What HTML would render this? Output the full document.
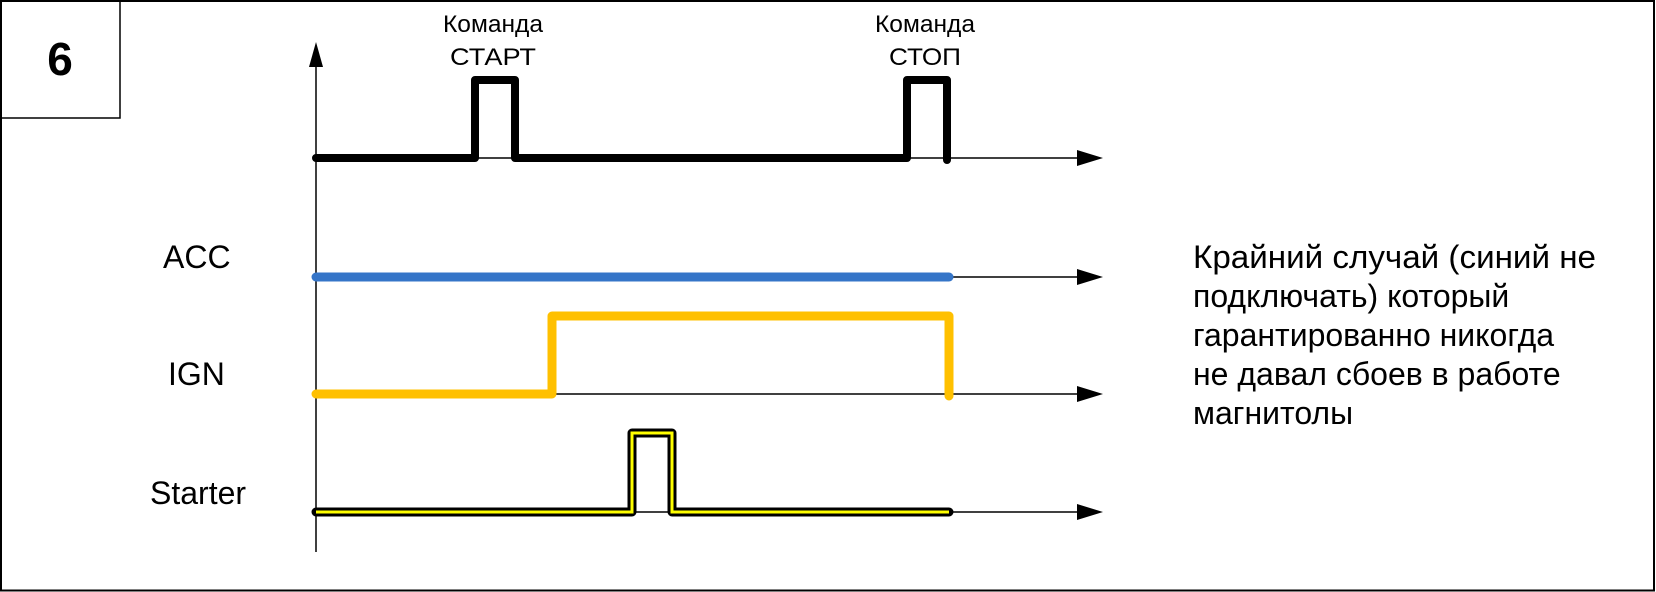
<!DOCTYPE html>
<html><head><meta charset="utf-8"><style>
html,body{margin:0;padding:0;background:#fff;}
svg{display:block;}
text{font-family:"Liberation Sans",Arial,sans-serif;fill:#000;}
</style></head><body>
<svg width="1656" height="592" viewBox="0 0 1656 592" xmlns="http://www.w3.org/2000/svg">
<rect x="1" y="1" width="1653" height="589.5" fill="#fff" stroke="#000" stroke-width="2"/>
<rect x="1" y="1" width="119" height="117" fill="none" stroke="#000" stroke-width="1.5"/>
<text x="60" y="75" font-size="46" font-weight="bold" text-anchor="middle">6</text>

<line x1="316" y1="552" x2="316" y2="60" stroke="#000" stroke-width="1.5"/>
<polygon points="316,42 309,67 323,67" fill="#000"/>

<g stroke="#000" stroke-width="1.5">
<line x1="316" y1="158" x2="1080" y2="158"/>
<line x1="316" y1="277" x2="1080" y2="277"/>
<line x1="316" y1="394" x2="1080" y2="394"/>
<line x1="316" y1="512" x2="1080" y2="512"/>
</g>
<g fill="#000">
<polygon points="1103,158 1077,150 1077,166"/>
<polygon points="1103,277 1077,269 1077,285"/>
<polygon points="1103,394 1077,386 1077,402"/>
<polygon points="1103,512 1077,504 1077,520"/>
</g>

<polyline points="316,158 475,158 475,80 515,80 515,158 907,158 907,80 947,80 947,160" fill="none" stroke="#000" stroke-width="8" stroke-linejoin="round" stroke-linecap="round"/>

<line x1="316" y1="277" x2="949" y2="277" stroke="#3575c8" stroke-width="9" stroke-linecap="round"/>
<polyline points="316,394 552,394 552,316 949,316 949,396" fill="none" stroke="#ffc000" stroke-width="9" stroke-linejoin="round" stroke-linecap="round"/>
<polyline points="316,512 632,512 632,433 672,433 672,512 949,512" fill="none" stroke="#000" stroke-width="9" stroke-linejoin="round" stroke-linecap="round"/>
<polyline points="316,512 632,512 632,433 672,433 672,512 949,512" fill="none" stroke="#ffff00" stroke-width="3" stroke-linejoin="miter"/>

<text x="493" y="32" font-size="24" text-anchor="middle" textLength="100" lengthAdjust="spacingAndGlyphs">Команда</text>
<text x="493" y="65" font-size="24" text-anchor="middle" textLength="86" lengthAdjust="spacingAndGlyphs">СТАРТ</text>
<text x="925" y="32" font-size="24" text-anchor="middle" textLength="100" lengthAdjust="spacingAndGlyphs">Команда</text>
<text x="925" y="65" font-size="24" text-anchor="middle" textLength="72" lengthAdjust="spacingAndGlyphs">СТОП</text>

<text x="163" y="268" font-size="32">ACC</text>
<text x="168" y="385" font-size="32">IGN</text>
<text x="150" y="504" font-size="32">Starter</text>

<g font-size="32">
<text x="1193" y="268" textLength="403" lengthAdjust="spacingAndGlyphs">Крайний случай (синий не</text>
<text x="1193" y="307">подключать) который</text>
<text x="1193" y="346">гарантированно никогда</text>
<text x="1193" y="385">не давал сбоев в работе</text>
<text x="1193" y="424">магнитолы</text>
</g>
</svg>
</body></html>
